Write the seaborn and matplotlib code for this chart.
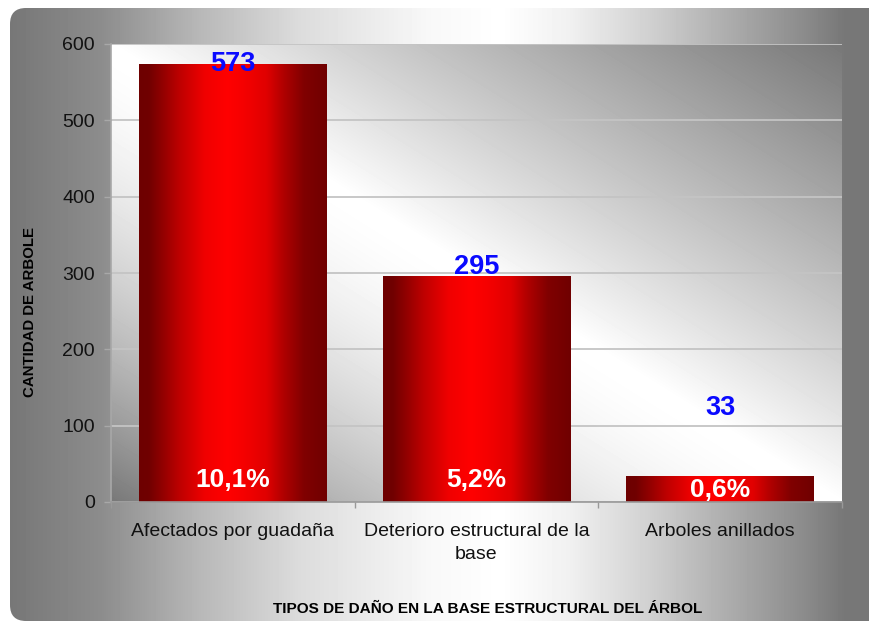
import textwrap
import numpy as np
import pandas as pd
import matplotlib
matplotlib.use("Agg")
import matplotlib.pyplot as plt
from matplotlib.patches import FancyBboxPatch
import seaborn as sns

# Data
categories = ["Afectados por guadaña", "Deterioro estructural de la base", "Arboles anillados"]
counts = [573, 295, 33]
percent_labels = ["10,1%", "5,2%", "0,6%"]
y_ticks = [0, 100, 200, 300, 400, 500, 600]
y_title = "CANTIDAD DE ARBOLE"
x_title = "TIPOS DE DAÑO EN LA BASE ESTRUCTURAL DEL ÁRBOL"

# Annotation placement (data units on the count axis)
count_label_y = [574, 308, 123]
percent_label_y = [29, 29, 16]

sns.set_theme(style="white")
plt.rcParams["font.family"] = ["Liberation Sans", "DejaVu Sans"]

W, H = 870, 623
fig = plt.figure(figsize=(W / 100, H / 100), dpi=100)
fig.patch.set_facecolor("white")

# Rounded outer panel with a horizontal grey-white-grey gradient
bg = fig.add_axes([0, 0, 1, 1], zorder=0)
bg.set_xlim(0, W)
bg.set_ylim(H, 0)
bg.axis("off")
xs = np.arange(W)
prof = np.interp(
    xs,
    [10, 100, 200, 300, 430, 500, 570, 650, 720, 800, 845, 870],
    [0x77, 0x8c, 0xb8, 0xdc, 0xf8, 0xff, 0xf0, 0xd0, 0xb0, 0x8d, 0x77, 0x77],
) / 255.0
outer = np.tile(prof, (H, 1))
im = bg.imshow(outer, cmap="gray", vmin=0, vmax=1, extent=[0, W, H, 0],
               aspect="auto", interpolation="bilinear")
panel = FancyBboxPatch((10, 8), W + 40, H - 10, boxstyle="round,pad=0,rounding_size=16",
                       facecolor="none", edgecolor="none")
bg.add_patch(panel)
im.set_clip_path(panel)

# Plot area
ax = fig.add_axes([111 / W, (H - 502) / H, (842 - 111) / W, (502 - 44) / H], zorder=1)
ax.patch.set_alpha(0)

# Diagonal gradient: light along the top-left/bottom-right diagonal,
# grey towards the top-right and bottom-left corners
ny, nx = 458, 731
xn = np.linspace(0, 1, nx)[None, :]
yn = np.linspace(0, 1, ny)[:, None]
u = xn - yn
dark = np.where(u > 0, np.abs(u) ** 0.95, np.abs(u) ** 1.6)
plot_bg = 1 - (1 - 0x78 / 255) * np.clip(dark, 0, 1)
ax.imshow(plot_bg, cmap="gray", vmin=0, vmax=1, extent=[0, 1, 0, 1],
          transform=ax.transAxes, aspect="auto", interpolation="bilinear", zorder=0)

df = pd.DataFrame({"category": categories, "count": counts})
sns.barplot(data=df, x="category", y="count", width=0.77, color="red", ax=ax, zorder=2)

# Horizontal dark-bright-dark red shading for each bar
t_pts = [0, 0.05, 0.12, 0.22, 0.35, 0.47, 0.56, 0.68, 0.77, 0.88, 1]
r_pts = [0x6e, 0x70, 0x90, 0xc0, 0xf0, 0xff, 0xf5, 0xe0, 0xb0, 0x80, 0x70]
tt = np.linspace(0, 1, 256)
red = np.interp(tt, t_pts, r_pts) / 255.0
bar_img = np.zeros((2, 256, 3))
bar_img[:, :, 0] = red
for p in ax.patches:
    x0, w, h = p.get_x(), p.get_width(), p.get_height()
    p.set_facecolor("none")
    p.set_edgecolor("none")
    ax.imshow(bar_img, extent=[x0, x0 + w, 0, h], aspect="auto",
              interpolation="bilinear", zorder=2)

ax.set_xlim(-0.5, len(categories) - 0.5)
ax.set_ylim(0, 600)
ax.set_yticks(y_ticks)
ax.set_xticks(range(len(categories)))
ax.set_xticklabels([textwrap.fill(c, 27) for c in categories], fontsize=14,
                   linespacing=1.45, color="#111111")
ax.set_yticklabels([str(v) for v in y_ticks], fontsize=14, color="#111111")
ax.set_xticks([-0.5, 0.5, 1.5, 2.5], minor=True)
ax.set_xlabel("")
ax.set_ylabel("")

ax.yaxis.grid(True, color="#c4c4c4", lw=1.3)
ax.xaxis.grid(False)
ax.set_axisbelow(True)
for s in ["top", "right"]:
    ax.spines[s].set_visible(False)
ax.spines["left"].set_color("#a8a8a8")
ax.spines["bottom"].set_color("#999999")
ax.spines["left"].set_linewidth(1.2)
ax.spines["bottom"].set_linewidth(1.2)
ax.tick_params(axis="y", left=True, length=5, width=1, color="#a8a8a8", pad=6.5)
ax.tick_params(axis="x", which="major", bottom=True, length=0, pad=15)
ax.tick_params(axis="x", which="minor", bottom=True, length=4, width=1, color="#999999")

for i, c in enumerate(counts):
    ax.text(i, count_label_y[i], str(c), ha="center", va="center", color="#0a0aff",
            fontsize=19.5, fontweight="bold", zorder=3)
    ax.text(i, percent_label_y[i], percent_labels[i], ha="center", va="center",
            color="white", fontsize=19, fontweight="bold", zorder=3)

fig.text(488 / W, 1 - 609 / H, x_title, ha="center", va="center", fontsize=11.1,
         fontweight="bold", color="black")
fig.text(30 / W, 1 - 312 / H, y_title, ha="center", va="center", rotation=90,
         fontsize=10.8, fontweight="bold", color="black")

fig.savefig("out.png", dpi=100)
